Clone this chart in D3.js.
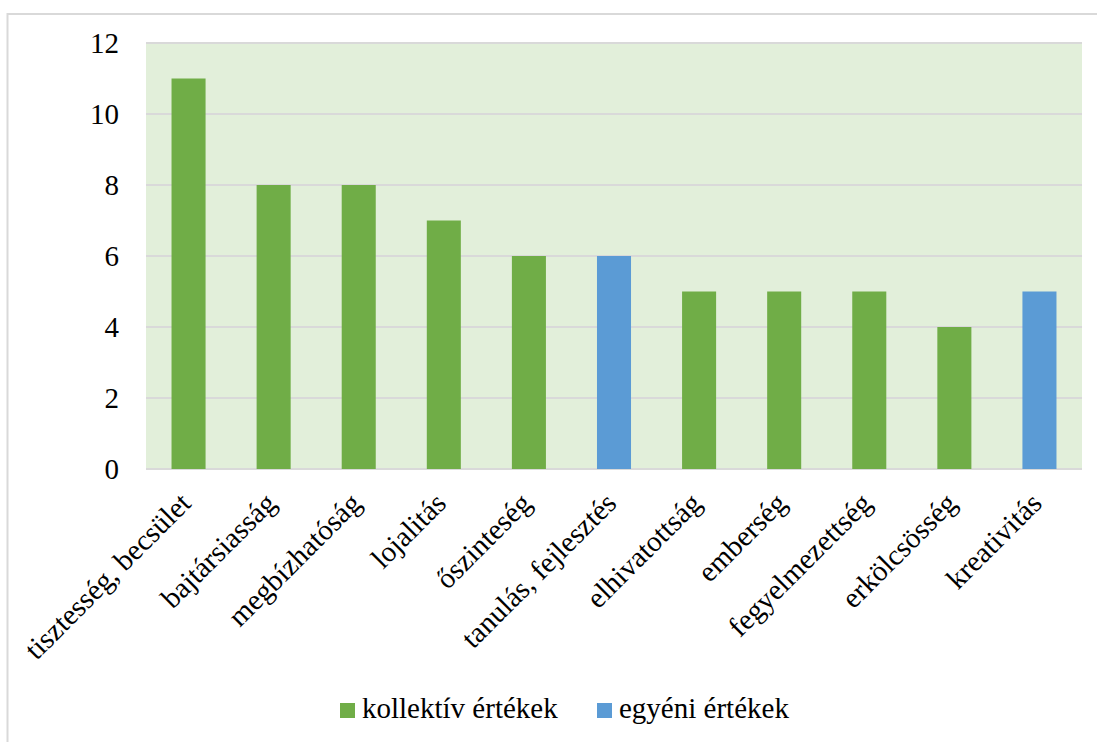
<!DOCTYPE html>
<html>
<head>
<meta charset="utf-8">
<script src="https://cdn.jsdelivr.net/npm/d3@7"></script>
<style>
  html, body { margin: 0; padding: 0; background: #fff; }
  svg { display: block; }
</style>
</head>
<body>
<svg id="chart" width="1097" height="742"></svg>
<script>
const categories = ["tisztesség, becsület", "bajtársiasság", "megbízhatóság", "lojalitás", "őszinteség", "tanulás, fejlesztés", "elhivatottság", "emberség", "fegyelmezettség", "erkölcsösség", "kreativitás"];
const values = [11, 8, 8, 7, 6, 6, 5, 5, 5, 4, 5];
const seriesOf = ["kollektív értékek", "kollektív értékek", "kollektív értékek", "kollektív értékek", "kollektív értékek", "egyéni értékek", "kollektív értékek", "kollektív értékek", "kollektív értékek", "kollektív értékek", "egyéni értékek"];
const seriesNames = ["kollektív értékek", "egyéni értékek"];
const seriesColors = ["#70AD47", "#5B9BD5"];
const yTicks = [0, 2, 4, 6, 8, 10, 12];

const FONT = "'Liberation Serif', 'DejaVu Serif', serif";
const svg = d3.select("#chart");
const plot = { left: 146, right: 1082, top: 43, bottom: 469 };

// outer chart border
svg.append("rect")
  .attr("x", 7.5).attr("y", 14)
  .attr("width", 1200).attr("height", 1000)
  .attr("fill", "#fff").attr("stroke", "#d9d9d9").attr("stroke-width", 2);

const x = d3.scaleBand().domain(categories).range([plot.left, plot.right]).paddingInner(0.6).paddingOuter(0.3);
const y = d3.scaleLinear().domain([0, 12]).range([plot.bottom, plot.top]);
const color = d3.scaleOrdinal().domain(seriesNames).range(seriesColors);

// plot background
svg.append("rect")
  .attr("x", plot.left).attr("y", plot.top)
  .attr("width", plot.right - plot.left).attr("height", plot.bottom - plot.top)
  .attr("fill", "#E2EFDA");

// gridlines
svg.append("g").selectAll("line").data(yTicks).join("line")
  .attr("x1", plot.left).attr("x2", plot.right)
  .attr("y1", d => y(d)).attr("y2", d => y(d))
  .attr("stroke", "#d9d9d9").attr("stroke-width", 2);

// y axis labels
const yAxis = d3.axisLeft(y).tickValues(yTicks).tickSize(0).tickPadding(27).tickFormat(d3.format("d"));
const gy = svg.append("g").attr("transform", `translate(${plot.left},0)`).call(yAxis);
gy.attr("font-family", null).attr("font-size", null);
gy.select(".domain").remove();
gy.selectAll("text").style("font-family", FONT).style("font-size", "29px").attr("fill", "#000").attr("dy", "0.34em");

// bars
svg.append("g").selectAll("rect").data(categories).join("rect")
  .attr("x", d => x(d))
  .attr("width", x.bandwidth())
  .attr("y", (d, i) => y(values[i]))
  .attr("height", (d, i) => y(0) - y(values[i]))
  .attr("fill", (d, i) => color(seriesOf[i]));

// x labels
svg.append("g").selectAll("text").data(categories).join("text")
  .attr("transform", d => `translate(${x(d) + x.bandwidth() / 2 + 4},${plot.bottom + 36}) rotate(-45)`)
  .attr("text-anchor", "end")
  .style("font-family", FONT)
  .style("font-size", "29px")
  .text(d => d);

// legend
const legendItems = [
  { name: seriesNames[0], x: 340 },
  { name: seriesNames[1], x: 597 }
];
const lg = svg.append("g").selectAll("g").data(legendItems).join("g")
  .attr("transform", d => `translate(${d.x},703)`);
lg.append("rect").attr("width", 15).attr("height", 15).attr("fill", d => color(d.name));
lg.append("text").attr("x", 22).attr("y", 15)
  .style("font-family", FONT).style("font-size", "29px").text(d => d.name);
</script>
</body>
</html>
